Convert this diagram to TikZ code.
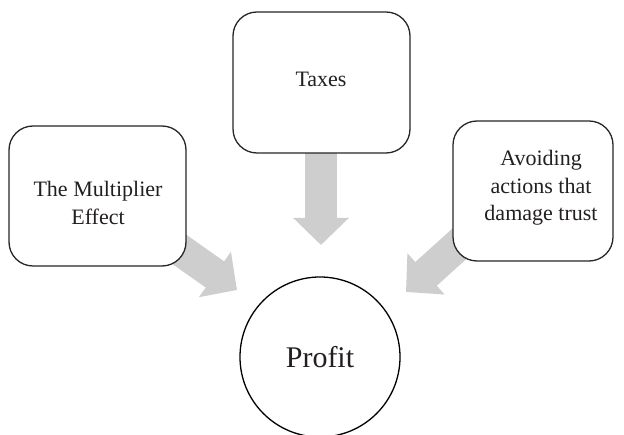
\documentclass[tikz,border=0pt]{standalone}
\usepackage{fontspec}
\setmainfont{Liberation Serif}
\usetikzlibrary{arrows.meta}
\definecolor{arrowgray}{RGB}{206,206,206}
\definecolor{txt}{RGB}{35,31,32}
\begin{document}
\begin{tikzpicture}[x=1pt,y=-1pt,
  box/.style={draw=black!85, line width=1.3pt, rounded corners=24pt, fill=white},
  boxtext/.style={text=txt, align=center, font=\fontsize{22}{27.5}\selectfont, inner sep=0pt},
  blockarrow/.style={draw=arrowgray, line width=32pt, -{Triangle[length=27pt 0 0, width=54pt 0 0]}, arrowgray}]
\useasboundingbox (0,0) rectangle (624,435);
\clip (0,0) rectangle (624,435);
% arrows (tails hidden under boxes)
\coordinate (tTax) at (321,140);
\coordinate (hTax) at (321,245);
\coordinate (tMul) at (166,240);
\coordinate (hMul) at (237,290);
\coordinate (tAvo) at (468,236);
\coordinate (hAvo) at (406,292);
\draw[blockarrow] (tTax) -- (hTax);
\draw[blockarrow] (tMul) -- (hMul);
\draw[blockarrow] (tAvo) -- (hAvo);
% boxes
\draw[box] (9,126) rectangle (186,266);
\draw[box] (233,12) rectangle (410,153);
\draw[box] (453,121) rectangle (613,261);
\node[boxtext] (mul) at (98,203) {The Multiplier\\Effect};
\node[boxtext] (tax) at (321,79) {Taxes};
\node[boxtext] (avo) at (541,188) {Avoiding\\actions that\\damage trust};
% circle
\node[draw=black, line width=1.3pt, circle, minimum size=160pt, inner sep=0pt, fill=white,
      text=txt, font=\fontsize{30}{36}\selectfont] (profit) at (320,357) {Profit};
\end{tikzpicture}
\end{document}
